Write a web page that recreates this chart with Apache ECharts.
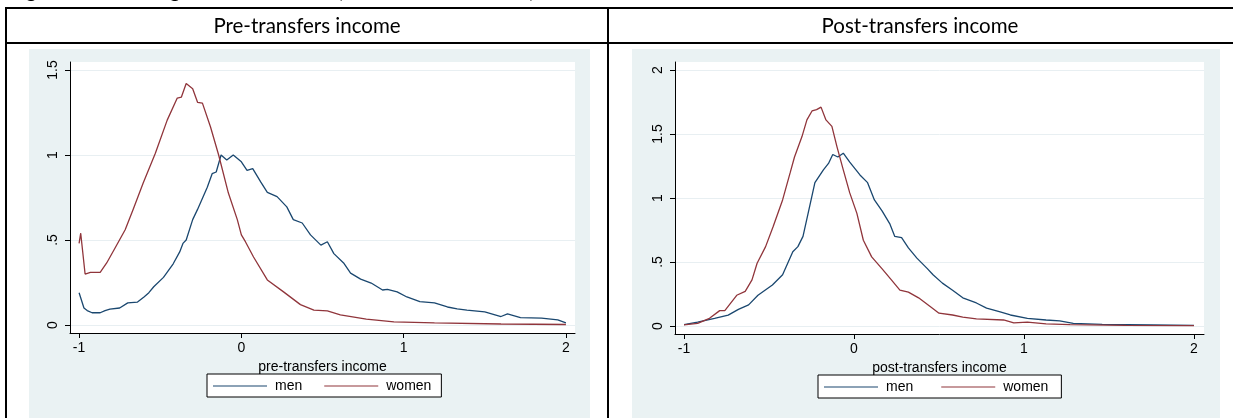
<!DOCTYPE html>
<html>
<head>
<meta charset="utf-8">
<script src="https://cdn.jsdelivr.net/npm/echarts@6.0.0/dist/echarts.min.js"></script>
<style>
  html, body { margin: 0; padding: 0; background: #fff; }
  #main { width: 1233px; height: 418px; }
</style>
</head>
<body>
<div id="main"></div>
<script>
// density estimates
var preMenX = [-1.00, -0.99, -0.97, -0.95, -0.92, -0.87, -0.84, -0.81, -0.75, -0.70, -0.64, -0.60, -0.57, -0.54, -0.48, -0.42, -0.38, -0.36, -0.34, -0.30, -0.27, -0.21, -0.18, -0.155, -0.125, -0.09, -0.05, 0.00, 0.035, 0.07, 0.12, 0.16, 0.22, 0.28, 0.32, 0.375, 0.426, 0.49, 0.53, 0.57, 0.63, 0.673, 0.735, 0.80, 0.87, 0.90, 0.96, 1.02, 1.10, 1.19, 1.27, 1.33, 1.39, 1.50, 1.60, 1.64, 1.72, 1.85, 1.95, 2.00]
var preMenY = [0.19, 0.20, 0.10, 0.085, 0.072, 0.072, 0.085, 0.094, 0.10, 0.13, 0.135, 0.165, 0.19, 0.225, 0.28, 0.36, 0.43, 0.48, 0.50, 0.62, 0.68, 0.81, 0.89, 0.90, 1.00, 0.97, 1.00, 0.96, 0.91, 0.92, 0.84, 0.78, 0.755, 0.695, 0.62, 0.60, 0.53, 0.47, 0.49, 0.42, 0.365, 0.305, 0.27, 0.247, 0.206, 0.21, 0.195, 0.165, 0.137, 0.13, 0.106, 0.095, 0.088, 0.077, 0.05, 0.065, 0.043, 0.04, 0.03, 0.012]

var preWomenX = [-1.00, -0.99, -0.963, -0.93, -0.87, -0.83, -0.78, -0.716, -0.667, -0.605, -0.53, -0.457, -0.395, -0.37, -0.34, -0.30, -0.27, -0.24, -0.19, -0.14, -0.08, -0.025, 0.00, 0.025, 0.075, 0.16, 0.26, 0.364, 0.447, 0.53, 0.61, 0.77, 0.94, 1.19, 1.60, 2.00]
var preWomenY = [0.48, 0.54, 0.30, 0.31, 0.31, 0.365, 0.45, 0.56, 0.68, 0.835, 1.01, 1.205, 1.335, 1.34, 1.42, 1.39, 1.31, 1.305, 1.165, 1.00, 0.776, 0.62, 0.53, 0.49, 0.40, 0.265, 0.195, 0.12, 0.088, 0.083, 0.06, 0.035, 0.018, 0.012, 0.006, 0.003]

var postMenX = [-1.00, -0.92, -0.82, -0.74, -0.68, -0.62, -0.565, -0.48, -0.42, -0.39, -0.36, -0.33, -0.30, -0.27, -0.23, -0.18, -0.15, -0.125, -0.095, -0.063, -0.025, 0.035, 0.08, 0.12, 0.165, 0.21, 0.24, 0.28, 0.32, 0.37, 0.43, 0.465, 0.52, 0.58, 0.64, 0.72, 0.78, 0.86, 0.92, 1.02, 1.13, 1.21, 1.29, 1.46, 1.76, 2.00]
var postMenY = [0.01, 0.03, 0.06, 0.085, 0.13, 0.165, 0.24, 0.32, 0.40, 0.49, 0.58, 0.62, 0.70, 0.88, 1.12, 1.22, 1.27, 1.34, 1.32, 1.35, 1.28, 1.18, 1.12, 0.985, 0.90, 0.80, 0.70, 0.69, 0.61, 0.53, 0.45, 0.40, 0.335, 0.28, 0.22, 0.18, 0.14, 0.11, 0.086, 0.06, 0.047, 0.04, 0.02, 0.013, 0.008, 0.005]

var postWomenX = [-1.00, -0.92, -0.85, -0.79, -0.76, -0.69, -0.64, -0.60, -0.57, -0.52, -0.476, -0.42, -0.375, -0.35, -0.306, -0.277, -0.247, -0.22, -0.194, -0.165, -0.13, -0.10, -0.063, -0.025, 0.017, 0.055, 0.104, 0.163, 0.22, 0.27, 0.32, 0.38, 0.45, 0.50, 0.58, 0.64, 0.72, 0.88, 0.94, 1.02, 1.13, 1.27, 1.60, 2.00]
var postWomenY = [0.008, 0.02, 0.06, 0.12, 0.12, 0.24, 0.27, 0.36, 0.49, 0.62, 0.775, 0.985, 1.20, 1.32, 1.48, 1.61, 1.68, 1.69, 1.71, 1.61, 1.56, 1.40, 1.22, 1.04, 0.88, 0.67, 0.54, 0.45, 0.36, 0.28, 0.265, 0.22, 0.15, 0.10, 0.086, 0.07, 0.055, 0.047, 0.025, 0.03, 0.016, 0.01, 0.005, 0.003]

var xTicks = [-1, 0, 1, 2]
var preYTicks = [0, 0.5, 1, 1.5]
var postYTicks = [0, 0.5, 1, 1.5, 2]

var MEN = '#1a476f'
var WOMEN = '#90353b'
var FONT = 'Liberation Sans'

function pairs(xs, ys) {
  return xs.map(function (x, i) { return [x, ys[i]] })
}

function yLabel(v) {
  if (v === 0) return '0'
  var s = String(v)
  return s.indexOf('0.') === 0 ? s.slice(1) : s
}

function xAxisFor(idx, min, max, name) {
  return {
    type: 'value', gridIndex: idx, min: min, max: max,
    name: name, nameLocation: 'middle', nameGap: 19,
    nameTextStyle: { fontFamily: FONT, fontSize: 14, color: '#000' },
    axisLine: { show: true, onZero: false, lineStyle: { color: '#000', width: 1 } },
    axisTick: { show: true, length: 5, customValues: xTicks, lineStyle: { color: '#000' } },
    axisLabel: { customValues: xTicks, margin: 8, fontFamily: FONT, fontSize: 14, color: '#000' },
    splitLine: { show: false }
  }
}

function yAxisFor(idx, min, max, ticks) {
  return {
    type: 'value', gridIndex: idx, min: min, max: max,
    axisLine: { show: true, onZero: false, lineStyle: { color: '#000', width: 1 } },
    axisTick: { show: true, length: 5, customValues: ticks, lineStyle: { color: '#000' } },
    axisLabel: { customValues: ticks, rotate: 90, margin: 10, fontFamily: FONT, fontSize: 14, color: '#000', formatter: yLabel },
    splitLine: { show: true, lineStyle: { color: '#e8eff2', width: 1 } }
  }
}

function legendAt(left, top, gap, padRight) {
  return {
    left: left, top: top, orient: 'horizontal',
    data: [
      { name: 'men', itemStyle: { color: MEN } },
      { name: 'women', itemStyle: { color: WOMEN } }
    ],
    icon: 'rect', itemWidth: 54, itemHeight: 1.2, itemGap: gap,
    padding: [5, padRight, 4, 6], backgroundColor: '#fff', borderColor: '#000', borderWidth: 1, borderRadius: 0,
    selectedMode: false,
    textStyle: { fontFamily: FONT, fontSize: 14, color: '#000', padding: [0, 0, 0, 3] }
  }
}

function line(name, color, xi, data) {
  return {
    name: name, type: 'line', xAxisIndex: xi, yAxisIndex: xi, data: data,
    symbol: 'none', showSymbol: false, color: color,
    itemStyle: { color: color },
    lineStyle: { color: color, width: 1.3 }
  }
}

var chart = echarts.init(document.getElementById('main'), null, { renderer: 'canvas' })
chart.setOption({
  animation: false,
  backgroundColor: '#fff',
  graphic: [
    // panel backgrounds
    { type: 'rect', z: -10, shape: { x: 29, y: 49, width: 561, height: 369 }, style: { fill: '#eaf2f3' } },
    { type: 'rect', z: -10, shape: { x: 632, y: 49, width: 588, height: 369 }, style: { fill: '#eaf2f3' } },
    { type: 'rect', z: -9, shape: { x: 70, y: 62, width: 505, height: 271 }, style: { fill: '#fff' } },
    { type: 'rect', z: -9, shape: { x: 675, y: 62, width: 529, height: 272 }, style: { fill: '#fff' } },
    // table lines
    { type: 'line', z: 10, shape: { x1: 5, y1: 8, x2: 1233, y2: 8 }, style: { stroke: '#000', lineWidth: 2 } },
    { type: 'line', z: 10, shape: { x1: 5, y1: 43, x2: 1233, y2: 43 }, style: { stroke: '#000', lineWidth: 2 } },
    { type: 'line', z: 10, shape: { x1: 6, y1: 7, x2: 6, y2: 418 }, style: { stroke: '#000', lineWidth: 2 } },
    { type: 'line', z: 10, shape: { x1: 608, y1: 7, x2: 608, y2: 418 }, style: { stroke: '#000', lineWidth: 2 } },
    // captions
    { type: 'text', z: 10, x: 10, y: 2, style: { text: 'Figure 2: Kernel log income densities (normalised at median)', fontFamily: 'Lato', fontSize: 20, fill: '#000', verticalAlign: 'bottom' } },
    { type: 'text', z: 10, x: 307, y: 26, style: { text: 'Pre-transfers income', fontFamily: 'Lato', fontSize: 20.5, fill: '#000', align: 'center', verticalAlign: 'middle' } },
    { type: 'text', z: 10, x: 920, y: 26, style: { text: 'Post-transfers income', fontFamily: 'Lato', fontSize: 20.5, fill: '#000', align: 'center', verticalAlign: 'middle' } }
  ],
  grid: [
    { left: 70, top: 62, width: 505, height: 271, show: false },
    { left: 675, top: 62, width: 529, height: 272, show: false }
  ],
  xAxis: [
    xAxisFor(0, -1.056, 2.056, 'pre-transfers income'),
    xAxisFor(1, -1.053, 2.059, 'post-transfers income')
  ],
  yAxis: [
    yAxisFor(0, -0.047, 1.547, preYTicks),
    yAxisFor(1, -0.0625, 2.0625, postYTicks)
  ],
  legend: [
    legendAt(207, 374, 22, 10),
    legendAt(818, 375, 28, 13)
  ],
  series: [
    line('men', MEN, 0, pairs(preMenX, preMenY)),
    line('women', WOMEN, 0, pairs(preWomenX, preWomenY)),
    line('men', MEN, 1, pairs(postMenX, postMenY)),
    line('women', WOMEN, 1, pairs(postWomenX, postWomenY))
  ]
})
</script>
</body>
</html>
